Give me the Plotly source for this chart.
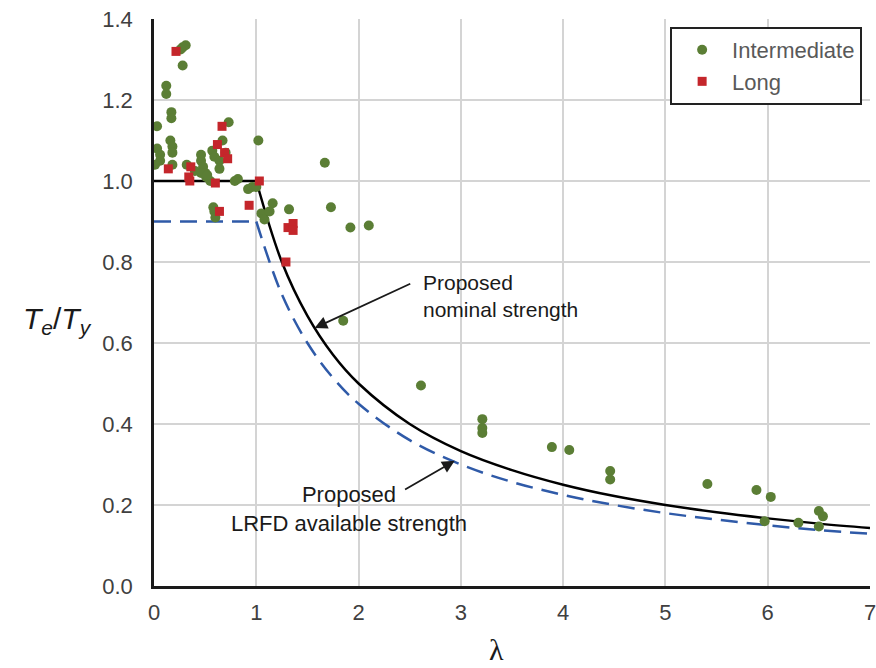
import plotly.graph_objects as go

# ---- data ----
inter_x = [0.28, 0.31, 0.26, 0.28, 0.12, 0.12, 0.17, 0.17, 0.03, 0.73, 1.02,
           0.16, 0.18, 0.18, 0.03, 0.06, 0.06, 0.01, 0.18, 0.32, 0.46, 0.46, 0.48, 0.50,
           0.57, 0.59, 0.67, 0.64, 0.64, 0.46, 0.51, 0.55, 0.79, 0.82, 0.92, 0.96,
           0.58, 0.59, 0.60, 1.05, 1.08, 1.16, 1.13, 1.32, 1.67, 1.73, 1.92, 2.10,
           1.85, 2.61, 3.21, 3.21, 3.21, 3.89, 4.06, 4.46, 4.46, 5.41, 5.89, 6.03,
           5.97, 6.30, 6.50, 6.54, 6.50, 0.40, 0.52, 0.70, 1.00]
inter_y = [1.33, 1.335, 1.325, 1.285, 1.235, 1.215, 1.17, 1.155, 1.135, 1.145, 1.10,
           1.10, 1.085, 1.07, 1.08, 1.065, 1.05, 1.04, 1.04, 1.04, 1.065, 1.05, 1.035, 1.02,
           1.075, 1.06, 1.10, 1.05, 1.03, 1.02, 1.01, 1.0, 1.0, 1.005, 0.98, 0.985,
           0.935, 0.925, 0.91, 0.92, 0.905, 0.945, 0.925, 0.93, 1.045, 0.935, 0.885, 0.89,
           0.655, 0.495, 0.412, 0.39, 0.378, 0.343, 0.336, 0.284, 0.263, 0.252, 0.237, 0.22,
           0.16, 0.156, 0.185, 0.172, 0.147, 1.025, 1.015, 1.07, 0.985]

long_x = [0.215, 0.665, 0.62, 0.69, 0.72, 0.14, 0.36, 0.34, 0.35, 0.60, 1.03,
          0.64, 0.93, 1.31, 1.36, 1.36, 1.29]
long_y = [1.32, 1.135, 1.09, 1.07, 1.055, 1.03, 1.035, 1.01, 1.0, 0.995, 1.0,
          0.925, 0.94, 0.885, 0.895, 0.878, 0.80]

# design curves
nom_flat_x = [0, 1]
nom_flat_y = [1.0, 1.0]
nom_x = [1, 1.25, 1.5, 1.75, 2, 2.5, 3, 3.5, 4, 4.5, 5, 5.5, 6, 6.5, 7]
nom_y = [1.0, 0.8, 0.667, 0.571, 0.5, 0.4, 0.333, 0.286, 0.25, 0.222, 0.2, 0.182, 0.167, 0.154, 0.143]
lrfd_flat_x = [0, 1]
lrfd_flat_y = [0.9, 0.9]
lrfd_x = [1, 1.25, 1.5, 1.75, 2, 2.5, 3, 3.5, 4, 4.5, 5, 5.5, 6, 6.5, 7]
lrfd_y = [0.9, 0.72, 0.6, 0.514, 0.45, 0.36, 0.3, 0.257, 0.225, 0.2, 0.18, 0.164, 0.15, 0.138, 0.129]

x_ticks = [0, 1, 2, 3, 4, 5, 6, 7]
y_ticks = [0.0, 0.2, 0.4, 0.6, 0.8, 1.0, 1.2, 1.4]

GREEN = "#5b7e35"
RED = "#c4262b"
BLUE = "#2f5aa8"
FONT = "Liberation Sans, Arial, sans-serif"

fig = go.Figure()

fig.add_trace(go.Scatter(x=lrfd_flat_x, y=lrfd_flat_y, mode="lines", showlegend=False,
                         line=dict(color=BLUE, width=2.5, dash="17px,9px")))
fig.add_trace(go.Scatter(x=lrfd_x, y=lrfd_y, mode="lines", showlegend=False,
                         line=dict(color=BLUE, width=2.5, dash="17px,9px", shape="spline")))
fig.add_trace(go.Scatter(x=nom_flat_x, y=nom_flat_y, mode="lines", showlegend=False,
                         line=dict(color="black", width=2.5)))
fig.add_trace(go.Scatter(x=nom_x, y=nom_y, mode="lines", showlegend=False,
                         line=dict(color="black", width=2.5, shape="spline")))

fig.add_trace(go.Scatter(x=inter_x, y=inter_y, mode="markers", name="Intermediate",
                         marker=dict(color=GREEN, size=10, symbol="circle")))
fig.add_trace(go.Scatter(x=long_x, y=long_y, mode="markers", name="Long",
                         marker=dict(color=RED, size=9, symbol="square")))

annots = [
    # arrows
    dict(x=1.57, y=0.637, ax=2.52, ay=0.748, xref="x", yref="y", axref="x", ayref="y",
         text="", showarrow=True, arrowhead=2, arrowsize=1.4, arrowwidth=1.8, arrowcolor="#1a1a1a"),
    dict(x=2.94, y=0.309, ax=2.44, ay=0.236, xref="x", yref="y", axref="x", ayref="y",
         text="", showarrow=True, arrowhead=2, arrowsize=1.4, arrowwidth=1.8, arrowcolor="#1a1a1a"),
    # texts
    dict(x=2.61, y=0.716, xref="x", yref="y", xanchor="left", yanchor="middle", align="left",
         text="Proposed<br>nominal strength", showarrow=False,
         font=dict(family=FONT, size=21, color="#1a1a1a")),
    dict(x=1.91, y=0.19, xref="x", yref="y", xanchor="center", yanchor="middle", align="center",
         text="Proposed<br>LRFD available strength", showarrow=False,
         font=dict(family=FONT, size=22, color="#1a1a1a")),
]

fig.update_layout(
    width=876, height=668,
    margin=dict(l=154, r=6, t=19, b=82),
    plot_bgcolor="white", paper_bgcolor="white",
    font=dict(family=FONT, size=22, color="#404040"),
    annotations=annots,
    legend=dict(x=0.989, y=0.986, xanchor="right", yanchor="top",
                bgcolor="white", bordercolor="#222222", borderwidth=2,
                font=dict(family=FONT, size=22, color="#595959"),
                itemwidth=50, tracegroupgap=0),
)

# axis titles as paper annotations
fig.add_annotation(x=-0.135, y=0.468, xref="paper", yref="paper",
                   text="<i>T<sub>e</sub></i>/<i>T<sub>y</sub></i>", showarrow=False,
                   font=dict(family=FONT, size=30, color="#1a1a1a"), xanchor="center", yanchor="middle")
fig.add_annotation(x=0.479, y=-0.112, xref="paper", yref="paper",
                   text="λ", showarrow=False,
                   font=dict(family="Liberation Serif, serif", size=30, color="#1a1a1a"),
                   xanchor="center", yanchor="middle")

fig.update_xaxes(range=[0, 7], tickvals=x_ticks, ticktext=[str(v) for v in x_ticks],
                 showgrid=True, gridcolor="#d4d4d4", gridwidth=1.5, automargin=False,
                 showline=True, linecolor="#1a1a1a", linewidth=2.5, zeroline=False,
                 ticks="", ticklabelstandoff=5, ticklabeloverflow="allow",
                 tickfont=dict(size=22, color="#404040"))
fig.update_yaxes(range=[0, 1.4], tickvals=y_ticks, ticktext=[f"{v:.1f}" for v in y_ticks],
                 showgrid=True, gridcolor="#d4d4d4", gridwidth=1.5, automargin=False,
                 showline=True, linecolor="#1a1a1a", linewidth=2.5, zeroline=False,
                 ticks="", ticklabelstandoff=14, ticklabeloverflow="allow",
                 tickfont=dict(size=22, color="#404040"))

fig.write_html("out.html")
